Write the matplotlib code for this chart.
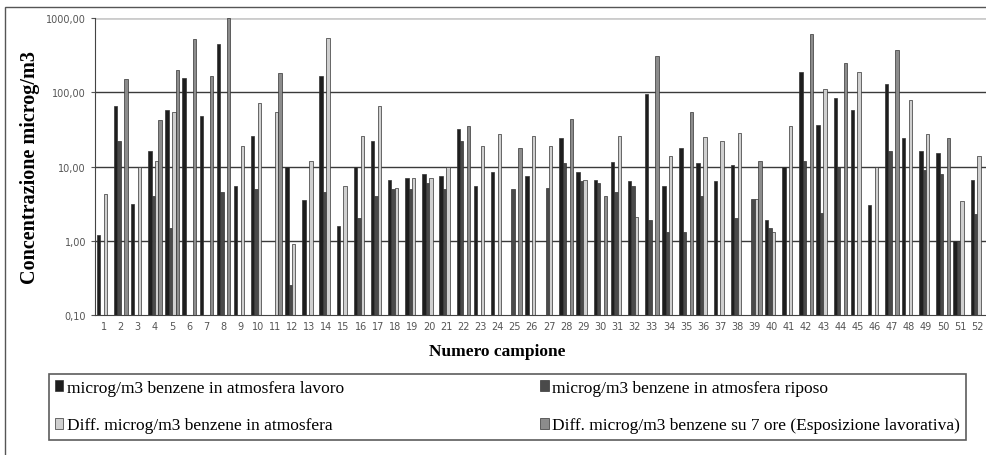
import numpy as np
import matplotlib.pyplot as plt
from matplotlib.patches import Rectangle

nan = np.nan

# sample numbers 1..52
samples = [str(i) for i in range(1, 53)]

# microg/m3 benzene in atmosfera lavoro
lavoro = [1.2, 65, 3.1, 16, 58, 155, 48, 440, 5.5, 26,
          nan, 10, 3.5, 165, 1.6, 10, 22, 6.5, 7, 8,
          7.5, 32, 5.4, 8.5, nan, 7.5, nan, 24, 8.5, 6.6,
          11.5, 6.3, 95, 5.4, 18, 11, 6.3, 10.5, nan, 1.9,
          10, 190, 36, 83, 58, 3, 131, 24, 16, 15,
          1.0, 6.5]
# microg/m3 benzene in atmosfera riposo
riposo = [nan, 22, nan, 4, 1.5, nan, nan, 4.5, nan, 5,
          nan, 0.25, nan, 4.6, nan, 2, 4, 5, 5, 6,
          5, 22, nan, nan, 5, nan, 5.2, 11, 6.3, 6,
          4.5, 5.5, 1.9, 1.3, 1.3, 4, nan, 2, 3.6, 1.5,
          nan, 12, 2.4, 10, nan, nan, 16, nan, 9, 8,
          1.0, 2.3]
# Diff. microg/m3 benzene in atmosfera
diff_atm = [4.2, nan, 10, 12, 55, nan, nan, nan, 19, 71,
            55, 0.9, 12, 540, 5.4, 26, 65, 5.2, 7, 7,
            10, nan, 19, 27, nan, 26, 19, nan, 6.6, nan,
            26, 2.1, nan, 14, nan, 25, 22, 28, 3.7, 1.3,
            35, nan, 112, nan, 190, 10, nan, 78, 27, nan,
            3.4, 14]
# Diff. microg/m3 benzene su 7 ore (Esposizione lavorativa)
diff_7h = [nan, 150, nan, 42, 200, 520, 165, 1000, nan, nan,
           180, nan, nan, nan, nan, nan, nan, nan, nan, nan,
           nan, 35, nan, nan, 17.5, nan, nan, 43, nan, 4,
           nan, nan, 310, nan, 55, nan, nan, nan, 12, nan,
           nan, 600, nan, 245, nan, nan, 370, nan, nan, 24,
           nan, nan]

series = [lavoro, riposo, diff_atm, diff_7h]
labels = ["microg/m3 benzene in atmosfera lavoro",
          "microg/m3 benzene in atmosfera riposo",
          "Diff. microg/m3 benzene in atmosfera",
          "Diff. microg/m3 benzene su 7 ore (Esposizione lavorativa)"]
colors = ["#1e1e1e", "#4a4a4a", "#cfcfcf", "#8c8c8c"]

serif = ["Liberation Serif", "DejaVu Serif"]

fig = plt.figure(figsize=(9.86, 4.56), dpi=100)
ax = fig.add_axes([95 / 986, 1 - 316 / 456, 891 / 986, 297 / 456])

x = np.arange(len(samples))
width = 0.2
handles = []
for k, (vals, col) in enumerate(zip(series, colors)):
    h = ax.bar(x + (k - 1.5) * width, vals, width, color=col,
               edgecolor="#333333", linewidth=0.5, log=True)
    handles.append(h)

ax.set_yscale("log")
ax.set_ylim(0.1, 1000)
ax.set_xlim(-0.5, len(samples) - 0.5)
ax.set_yticks([0.1, 1, 10, 100, 1000])
ax.set_yticklabels(["0,10", "1,00", "10,00", "100,00", "1000,00"])
ax.yaxis.set_minor_locator(plt.NullLocator())
ax.set_xticks(x)
ax.set_xticklabels(samples)
ax.tick_params(axis="both", labelsize=7, colors="#555555", length=3)
ax.tick_params(axis="x", length=0, pad=4)

for v in [1, 10, 100]:
    ax.axhline(v, color="#3a3a3a", linewidth=1.0, zorder=0)
ax.axhline(1000, color="#cccccc", linewidth=2.0, zorder=0)

for s in ["top", "right"]:
    ax.spines[s].set_visible(False)
ax.spines["left"].set_color("#444444")
ax.spines["bottom"].set_color("#444444")

ax.set_xlabel("Numero campione", family=serif, fontsize=12.5,
              fontweight="bold")
ax.xaxis.set_label_coords((497 - 95) / 891, -28 / 297)
ax.set_ylabel("Concentrazione microg/m3", family=serif, fontsize=14.5,
              fontweight="bold")
ax.yaxis.set_label_coords(-55 / 891, 0.5)

# legend below, two columns (filled column-wise)
order = [0, 2, 1, 3]
leg = fig.legend([handles[i] for i in order], [labels[i] for i in order],
                 ncol=2, loc="upper left",
                 bbox_to_anchor=(40 / 986, 1 - 432 / 456, 935 / 986, 66 / 456),
                 mode="expand", prop={"family": serif, "size": 12.5},
                 frameon=True, fancybox=False, edgecolor="#333333",
                 handlelength=0.5, handleheight=0.6, handletextpad=0.2,
                 labelspacing=1.25, borderpad=0.35, columnspacing=2)
leg.get_frame().set_linewidth(1.2)

# outer chart frame
fig.patches.append(Rectangle((5 / 986, -0.1), 1.2, 1 - 8 / 456 + 0.1,
                             transform=fig.transFigure, fill=False,
                             edgecolor="#555555", linewidth=1.0))

fig.savefig("out.png", dpi=100)
